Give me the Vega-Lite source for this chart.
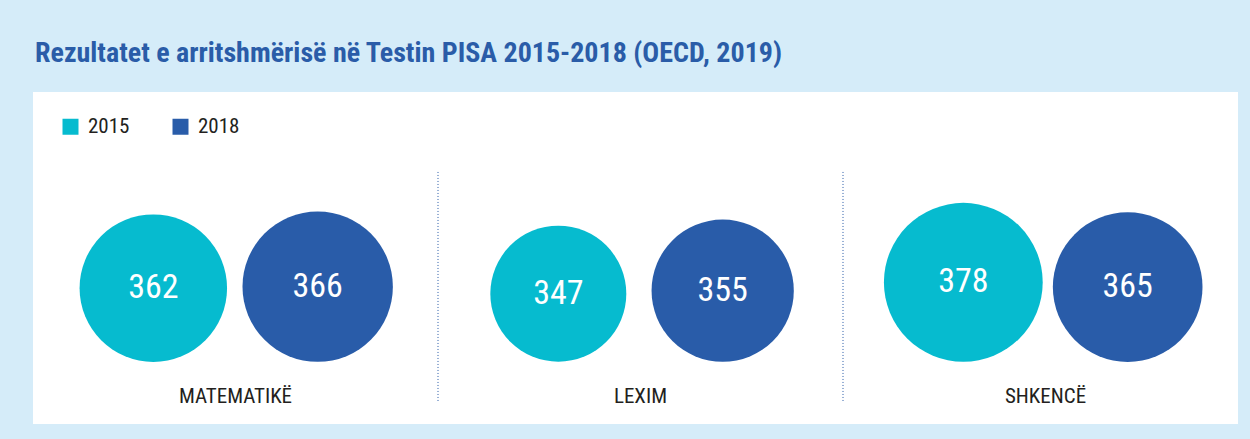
{
  "$schema": "https://vega.github.io/schema/vega-lite/v6.json",
  "width": 1205,
  "height": 332,
  "autosize": {"type": "none"},
  "padding": {"left": 33, "top": 92, "right": 12, "bottom": 15},
  "background": "#d5ecf9",
  "config": {
    "view": {"fill": "white", "stroke": null},
    "font": "Roboto Condensed, Roboto"
  },
  "title": {
    "text": "Rezultatet e arritshmërisë në Testin PISA 2015-2018 (OECD, 2019)",
    "anchor": "start",
    "frame": "group",
    "font": "Roboto Condensed, Roboto",
    "fontSize": 28,
    "fontWeight": "bold",
    "color": "#2a5ca8",
    "baseline": "alphabetic",
    "offset": 2,
    "dx": 2
  },
  "data": {
    "values": [
      {"subject": "MATEMATIKË", "year": 2015, "value": 362},
      {"subject": "MATEMATIKË", "year": 2018, "value": 366},
      {"subject": "LEXIM", "year": 2015, "value": 347},
      {"subject": "LEXIM", "year": 2018, "value": 355},
      {"subject": "SHKENCË", "year": 2015, "value": 378},
      {"subject": "SHKENCË", "year": 2018, "value": 365}
    ]
  },
  "layer": [
    {
      "transform": [{"filter": "datum.year == 2015 && datum.subject != 'MATEMATIKË'"}],
      "mark": {"type": "rule", "strokeDash": [1, 2], "color": "#2a5ca8", "strokeWidth": 1},
      "encoding": {
        "x": {"field": "subject", "type": "nominal", "bandPosition": 0, "axis": null,
              "scale": {"domain": ["MATEMATIKË", "LEXIM", "SHKENCË"], "range": [0, 1215], "paddingInner": 0, "paddingOuter": 0}},
        "y": {"datum": 678, "type": "quantitative", "scale": {"domain": [-7.5, 895.5], "zero": false, "nice": false}, "axis": null},
        "y2": {"datum": 50}
      }
    },
    {
      "mark": {"type": "circle", "opacity": 1},
      "encoding": {
        "x": {"field": "subject", "type": "nominal", "axis": null,
              "scale": {"domain": ["MATEMATIKË", "LEXIM", "SHKENCË"], "range": [0, 1215], "paddingInner": 0, "paddingOuter": 0}},
        "xOffset": {"field": "year", "type": "nominal",
                    "scale": {"domain": [2015, 2018], "padding": 0.732}},
        "y": {"field": "value", "type": "quantitative", "scale": {"domain": [-7.5, 895.5], "zero": false, "nice": false}, "axis": null},
        "size": {"field": "value", "type": "quantitative", "scale": {"domain": [347, 378], "range": [18496, 25220], "zero": false}, "legend": null},
        "color": {"field": "year", "type": "nominal",
                  "scale": {"domain": [2015, 2018], "range": ["#06bbcf", "#295ca9"]},
                  "legend": {"orient": "none", "legendX": 27, "legendY": 24, "direction": "horizontal", "title": null,
                             "symbolType": "square", "symbolSize": 256, "symbolOpacity": 1, "symbolStrokeWidth": 0,
                             "labelFontSize": 21,
                             "labelFont": "Roboto Condensed, Roboto",
                             "labelColor": "#231f20", "labelOffset": 7, "columnPadding": 40}}
      }
    },
    {
      "mark": {"type": "text", "color": "white", "fontSize": 34, "align": "center", "baseline": "middle"},
      "encoding": {
        "x": {"field": "subject", "type": "nominal", "axis": null,
              "scale": {"domain": ["MATEMATIKË", "LEXIM", "SHKENCË"], "range": [0, 1215], "paddingInner": 0, "paddingOuter": 0}},
        "xOffset": {"field": "year", "type": "nominal",
                    "scale": {"domain": [2015, 2018], "padding": 0.732}},
        "y": {"field": "value", "type": "quantitative", "scale": {"domain": [-7.5, 895.5], "zero": false, "nice": false}, "axis": null},
        "text": {"field": "value", "type": "quantitative"}
      }
    },
    {
      "transform": [{"filter": "datum.year == 2015"}],
      "mark": {"type": "text", "color": "#231f20", "fontSize": 21, "align": "center", "baseline": "middle"},
      "encoding": {
        "x": {"field": "subject", "type": "nominal", "axis": null,
              "scale": {"domain": ["MATEMATIKË", "LEXIM", "SHKENCË"], "range": [0, 1215], "paddingInner": 0, "paddingOuter": 0}},
        "y": {"datum": 66, "type": "quantitative"},
        "text": {"field": "subject", "type": "nominal"}
      }
    }
  ]
}
